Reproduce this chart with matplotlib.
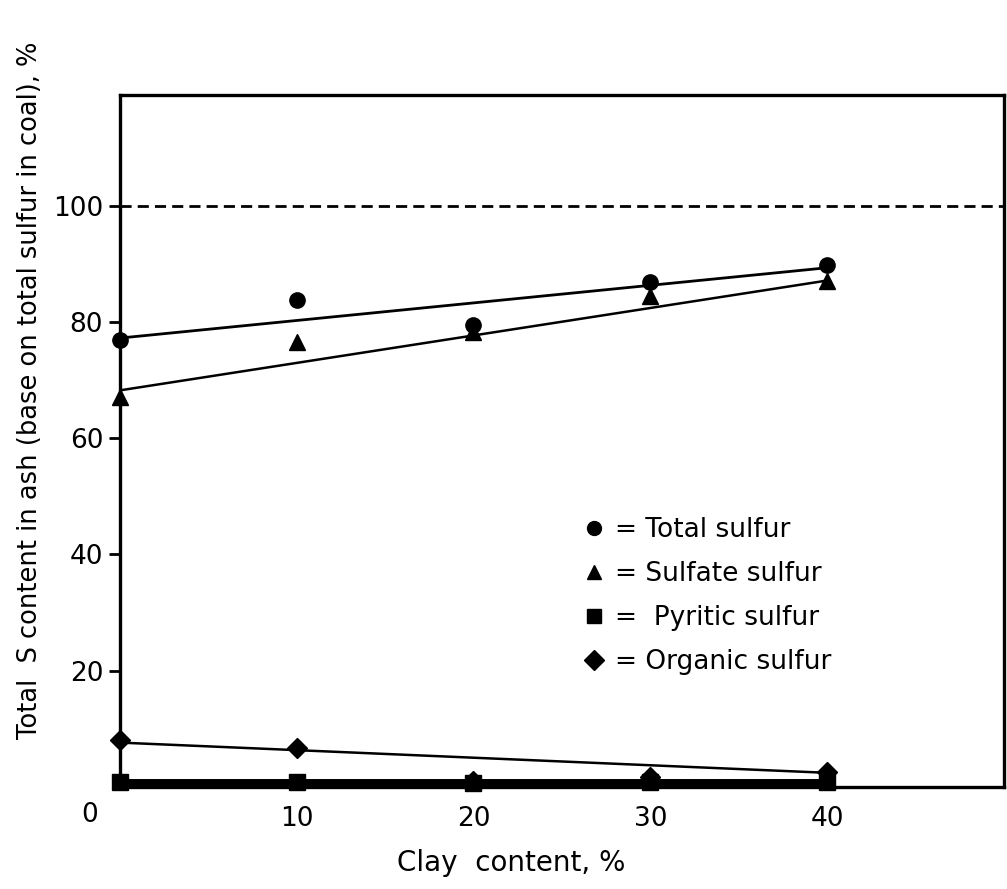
import matplotlib
matplotlib.use("Agg")
import matplotlib.pyplot as plt
from matplotlib.lines import Line2D

plt.rcParams['font.family'] = ['DejaVu Sans']

clay = [0, 10, 20, 30, 40]
total_s = [76.8, 83.7, 79.4, 86.8, 89.7]
sulfate_s = [67.0, 76.5, 78.3, 84.5, 87.1]
pyritic_s = [0.8, 0.8, 0.6, 0.8, 0.8]
organic_s = [8.0, 6.7, 1.0, 1.6, 2.5]

# fitted lines (end values)
fit_x = [0, 40]
total_fit = [77.2, 89.3]
sulfate_fit = [68.2, 87.1]
organic_fit = [7.6, 2.4]
pyritic_fit = [0.8, 0.8]

legend_labels = ['= Total sulfur', '= Sulfate sulfur', '=  Pyritic sulfur', '= Organic sulfur']
yticks = [20, 40, 60, 80, 100]
xticks = [10, 20, 30, 40]

fig = plt.figure(figsize=(10.07, 8.89), dpi=100)
ax = fig.add_axes([0.119, 0.115, 0.878, 0.778])

ax.plot(fit_x, total_fit, color='black', lw=2.0)
ax.plot(fit_x, sulfate_fit, color='black', lw=1.8)
ax.plot(fit_x, organic_fit, color='black', lw=1.8)
ax.plot(fit_x, pyritic_fit, color='black', lw=5, solid_capstyle='butt')

ms = 11
ax.plot(clay, pyritic_s, 's', color='black', ms=ms, clip_on=False, zorder=5)
ax.plot(clay, organic_s, 'D', color='black', ms=ms - 1, clip_on=False, zorder=5)
ax.plot(clay, sulfate_s, '^', color='black', ms=ms + 1, clip_on=False, zorder=5)
ax.plot(clay, total_s, 'o', color='black', ms=ms, clip_on=False, zorder=6)

ax.axhline(100, color='black', lw=2, ls=(0, (4, 2.2)))

ax.set_xlim(0, 50)
ax.set_ylim(0, 119)
ax.set_xticks(xticks)
ax.set_yticks(yticks)
ax.tick_params(axis='x', length=0, pad=14, labelsize=19)
ax.tick_params(axis='y', length=8, width=2, direction='out', pad=4, labelsize=19)
for s in ax.spines.values():
    s.set_linewidth(2.4)

fig.text(0.089, 0.083, '0', fontsize=19, ha='center', va='center')

fig.text(0.508, 0.029, 'Clay  content, %', fontsize=20, ha='center', va='center')
fig.text(0.03, 0.561, 'Total  S content in ash (base on total sulfur in coal), %',
         rotation=90, fontsize=18.5, ha='center', va='center')

handles = [Line2D([], [], ls='none', marker=m, color='black', ms=10)
           for m in ['o', '^', 's', 'D']]
ax.legend(handles, legend_labels, loc='upper left', bbox_to_anchor=(0.497, 0.424),
          frameon=False, fontsize=19, handlelength=0.8, handletextpad=0.4,
          labelspacing=0.68)

fig.savefig('out.png', dpi=100)
